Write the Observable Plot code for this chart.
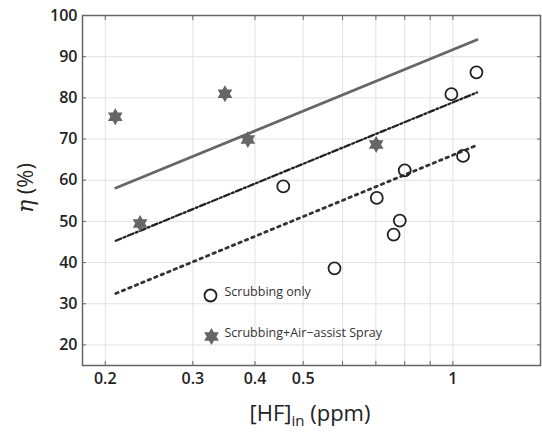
<!DOCTYPE html>
<html>
<head>
<meta charset="utf-8">
<script src="https://cdn.jsdelivr.net/npm/d3@7"></script>
<script src="https://cdn.jsdelivr.net/npm/@observablehq/plot@0.6"></script>
<style>
  html, body { margin: 0; padding: 0; background: #fff; }
  #chart { width: 542px; height: 435px; position: relative; }
</style>
</head>
<body>
<div id="chart"></div>
<script>
// Scrubbing only (open circles)
const scrubX = [1.115, 0.993, 1.048, 0.80, 0.456, 0.703, 0.782, 0.760, 0.578];
const scrubY = [86.2, 80.9, 65.9, 62.4, 58.5, 55.7, 50.2, 46.8, 38.6];
// Scrubbing + Air-assist Spray (stars)
const sprayX = [0.2095, 0.348, 0.387, 0.235, 0.701];
const sprayY = [75.4, 81.0, 69.9, 49.5, 68.7];
// Fit lines (endpoints)
const fitX = [0.21, 1.118];
const fitSolidY = [58.1, 94.1];
const fitDashDotY = [45.3, 81.3];
const fitDottedY = [32.5, 68.5];
// Axis ticks
const xGridTicks = [0.2, 0.3, 0.4, 0.5, 0.6, 0.7, 0.8, 0.9, 1];
const xLabelTicks = [0.2, 0.3, 0.4, 0.5, 1];
const yTicks = [20, 30, 40, 50, 60, 70, 80, 90, 100];
const legendLabels = ["Scrubbing only", "Scrubbing+Air\u2212assist Spray"];

const scrub = scrubX.map((x, i) => ({x, y: scrubY[i]}));
const spray = sprayX.map((x, i) => ({x, y: sprayY[i]}));
const line = (ys) => fitX.map((x, i) => ({x, y: ys[i]}));

// six-pointed star symbol
const hexagram = {
  draw(ctx, size) {
    const R = Math.sqrt(size / Math.PI);
    const r = R / Math.sqrt(3);
    for (let i = 0; i < 12; i++) {
      const a = Math.PI / 2 + i * Math.PI / 6;
      const rad = i % 2 === 0 ? R : r;
      const px = rad * Math.cos(a), py = -rad * Math.sin(a);
      if (i === 0) ctx.moveTo(px, py); else ctx.lineTo(px, py);
    }
    ctx.closePath();
  }
};

const fmt = d => d === 1 ? "1" : String(d);
const FONT = "'Open Sans', sans-serif";

const plot = Plot.plot({
  width: 542,
  height: 435,
  marginLeft: 82,
  marginTop: 15,
  marginRight: 2,
  marginBottom: 70,
  style: {fontFamily: FONT, background: "#fff"},
  x: {type: "log", domain: [0.18, 1.5]},
  y: {domain: [15, 100]},
  marks: [
    Plot.gridX(xGridTicks, {stroke: "#e2e2e2", strokeOpacity: 1, strokeWidth: 1}),
    Plot.gridY(yTicks, {stroke: "#e2e2e2", strokeOpacity: 1, strokeWidth: 1}),
    Plot.axisX(xLabelTicks, {anchor: "bottom", tickSize: 0, tickPadding: 7, tickFormat: fmt, fontSize: 16, fontWeight: 600, fill: "#222", label: null}),
    Plot.axisX(xGridTicks, {anchor: "bottom", tickSize: -4, tickFormat: () => "", stroke: "#666", label: null}),
    Plot.axisX(xGridTicks, {anchor: "top", tickSize: -4, tickFormat: () => "", stroke: "#666", label: null}),
    Plot.axisY(yTicks, {anchor: "left", tickSize: -4, tickPadding: 9, fontSize: 16, fontWeight: 600, fill: "#222", stroke: "#666", label: null}),
    Plot.axisY(yTicks, {anchor: "right", tickSize: -4, tickFormat: () => "", stroke: "#666", label: null}),
    Plot.frame({stroke: "#666", strokeWidth: 1.5}),
    Plot.line(line(fitSolidY), {x: "x", y: "y", stroke: "#666", strokeWidth: 2.8}),
    Plot.line(line(fitDashDotY), {x: "x", y: "y", stroke: "#222", strokeWidth: 2.3, strokeDasharray: "6,2.5,2,2.5"}),
    Plot.line(line(fitDottedY), {x: "x", y: "y", stroke: "#333", strokeWidth: 2.8, strokeDasharray: "2.5,4.5"}),
    Plot.dot(scrub, {x: "x", y: "y", r: 6, stroke: "#222", strokeWidth: 1.8, fill: "none"}),
    Plot.dot(spray, {x: "x", y: "y", r: 8.5, symbol: hexagram, fill: "#666", stroke: "none"}),
    // legend
    Plot.dot([legendLabels[0]], {frameAnchor: "bottom-left", dx: 128, dy: -70, r: 6, stroke: "#222", strokeWidth: 1.8, fill: "none"}),
    Plot.dot([legendLabels[1]], {frameAnchor: "bottom-left", dx: 129, dy: -29, r: 8.5, symbol: hexagram, fill: "#666"}),
    Plot.text([legendLabels[0]], {text: d => d, frameAnchor: "bottom-left", dx: 142, dy: -70, textAnchor: "start", fontSize: 12.5, fontWeight: 500, fill: "#333"}),
    Plot.text([legendLabels[1]], {text: d => d, frameAnchor: "bottom-left", dx: 142, dy: -29, textAnchor: "start", fontSize: 12.5, fontWeight: 500, fill: "#333"})
  ]
});

const svg = d3.select(plot);
// x-axis label with subscript
const xl = svg.append("text")
  .attr("x", 310).attr("y", 421)
  .attr("text-anchor", "middle")
  .attr("font-size", 22)
  .attr("fill", "#222")
  .attr("font-family", FONT);
xl.append("tspan").text("[HF]");
xl.append("tspan").attr("font-size", 15).attr("dy", 5).text("in");
xl.append("tspan").attr("dy", -5).text(" (ppm)");
// y-axis label
const yl = svg.append("text")
  .attr("transform", "translate(33,188) rotate(-90)")
  .attr("text-anchor", "middle")
  .attr("font-size", 22)
  .attr("fill", "#222")
  .attr("font-family", FONT);
yl.append("tspan").attr("font-style", "italic").attr("font-family", "'DejaVu Serif', serif").text("η");
yl.append("tspan").text(" (%)");

document.getElementById("chart").appendChild(plot);
</script>
</body>
</html>
